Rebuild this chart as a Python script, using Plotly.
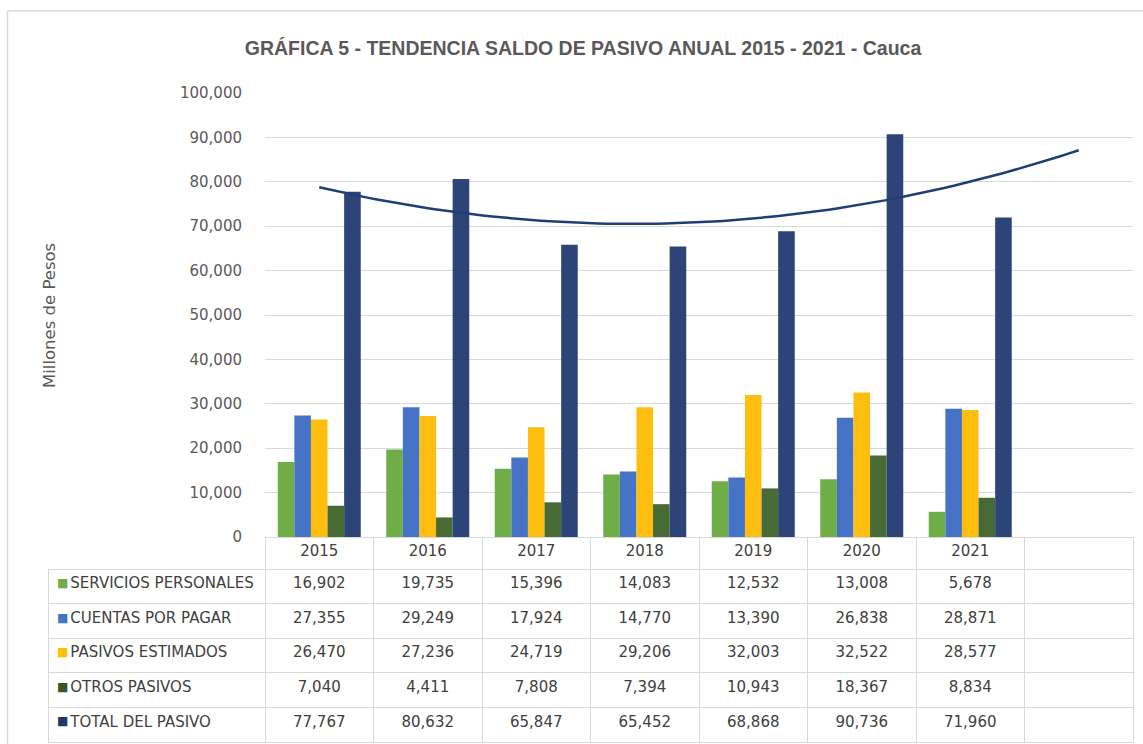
import numpy as np
import plotly.graph_objects as go

years = ["2015", "2016", "2017", "2018", "2019", "2020", "2021"]
series_names = ["SERVICIOS PERSONALES", "CUENTAS POR PAGAR", "PASIVOS ESTIMADOS",
                "OTROS PASIVOS", "TOTAL DEL PASIVO"]
servicios_personales = [16902, 19735, 15396, 14083, 12532, 13008, 5678]
cuentas_por_pagar = [27355, 29249, 17924, 14770, 13390, 26838, 28871]
pasivos_estimados = [26470, 27236, 24719, 29206, 32003, 32522, 28577]
otros_pasivos = [7040, 4411, 7808, 7394, 10943, 18367, 8834]
total_pasivo = [77767, 80632, 65847, 65452, 68868, 90736, 71960]
y_ticks = [0, 10000, 20000, 30000, 40000, 50000, 60000, 70000, 80000, 90000, 100000]

series_values = [servicios_personales, cuentas_por_pagar, pasivos_estimados,
                 otros_pasivos, total_pasivo]
bar_colors = ["#6FAD47", "#4673C6", "#FDBE10", "#486A35", "#2D4478"]
legend_colors = ["#70AD47", "#4472C4", "#FFC000", "#375623", "#1F3864"]

W, H = 1143, 744
ML, MR, MT, MB = 48, 10, 20, 0
pw = W - ML - MR
ph = H - MT - MB
plot_left, plot_top, plot_bottom = 265, 93, 537
HEADER_H, ROW_H = 32, 34.6

x_pos = list(range(1, len(years) + 1))
n_slots = len(years) + 1  # one extra forecast slot

fig = go.Figure()
for name, vals, col in zip(series_names, series_values, bar_colors):
    fig.add_trace(go.Bar(x=x_pos, y=vals, name=name, marker=dict(color=col, line=dict(width=0)),
                         showlegend=False))

# polynomial (order 2) trendline of the total, forecast forward one period
coef = np.polyfit(x_pos, total_pasivo, 2)
xt = np.linspace(1, n_slots, 80)
yt = np.polyval(coef, xt)
fig.add_trace(go.Scatter(x=xt, y=yt, mode="lines", line=dict(color="#203E74", width=2.5),
                         showlegend=False, hoverinfo="skip"))

# data table
FONT = "DejaVu Sans, Verdana, sans-serif"
NBSP = "\u00a0"
label_cells = [NBSP * 3 + n.replace(" ", NBSP) for n in series_names]
columns = [label_cells]
for i in range(len(years)):
    columns.append([f"{s[i]:,}" for s in series_values])
columns.append([""] * len(series_names))
header_vals = [""] + years + [""]
first_w = plot_left - ML
slot_w = (W - MR - plot_left) / n_slots
fig.add_trace(go.Table(
    domain=dict(x=[0, 1], y=[0, (H - MB - plot_bottom) / ph]),
    columnwidth=[first_w] + [slot_w] * n_slots,
    header=dict(values=header_vals, height=HEADER_H, align="center",
                fill=dict(color=["rgba(0,0,0,0)"] + ["white"] * n_slots),
                line=dict(color=["rgba(0,0,0,0)"] + ["#D9D9D9"] * n_slots, width=1),
                font=dict(family=FONT, size=15, color="#404040")),
    cells=dict(values=columns, height=ROW_H,
               align=["left"] + ["center"] * n_slots,
               fill=dict(color="white"),
               line=dict(color="#D9D9D9", width=1),
               font=dict(family=FONT, size=15, color="#404040")),
))

# legend keys (coloured squares) in the label column
annotations = [dict(text="Millones de Pesos", textangle=-90, showarrow=False,
                    xref="paper", yref="paper", x=(50 - ML) / pw, y=(H - MB - 316) / ph,
                    xanchor="center", yanchor="middle",
                    font=dict(family=FONT, size=16.5, color="#595959"))]
for i, c in enumerate(legend_colors):
    cy = plot_bottom + HEADER_H + ROW_H * i + 14
    annotations.append(dict(text="■", showarrow=False, xref="paper", yref="paper",
                            x=(62 - ML) / pw, y=(H - MB - cy) / ph,
                            xanchor="center", yanchor="middle",
                            font=dict(family=FONT, size=12, color=c)))

fig.update_layout(
    width=W, height=H,
    margin=dict(l=ML, r=MR, t=MT, b=MB),
    paper_bgcolor="white", plot_bgcolor="white",
    barmode="group", bargap=0.235, bargroupgap=0,
    xaxis=dict(domain=[(plot_left - ML) / pw, 1], range=[0.5, n_slots + 0.5],
               showticklabels=False, showgrid=False, zeroline=False, ticks="",
               automargin=False),
    yaxis=dict(domain=[(H - MB - plot_bottom) / ph, (H - MB - plot_top) / ph],
               range=[0, 100000], tickvals=y_ticks, tickformat=",d",
               gridcolor="#D9D9D9", gridwidth=1, zeroline=False, showline=False,
               ticklabelstandoff=22, automargin=False,
               tickfont=dict(family=FONT, size=15, color="#595959")),
    title=dict(text="<b>GRÁFICA 5 - TENDENCIA SALDO DE PASIVO ANUAL 2015 - 2021 - Cauca</b>",
               x=583 / W, xanchor="center", y=1 - 48 / H, yanchor="middle",
               xref="container", yref="container",
               font=dict(family="Liberation Sans, Arial", size=19.5, color="#595959")),
    annotations=annotations,
    shapes=[dict(type="rect", xref="paper", yref="paper",
                 x0=(7.5 - ML) / pw, x1=1 + 30 / pw, y0=-30 / ph, y1=(H - MB - 11) / ph,
                 line=dict(color="#D9D9D9", width=1.5), fillcolor="rgba(0,0,0,0)", layer="below")],
)

fig.write_html("out.html", config={"displayModeBar": False},
               post_script="document.body.style.margin='0';document.body.style.overflow='hidden';")
